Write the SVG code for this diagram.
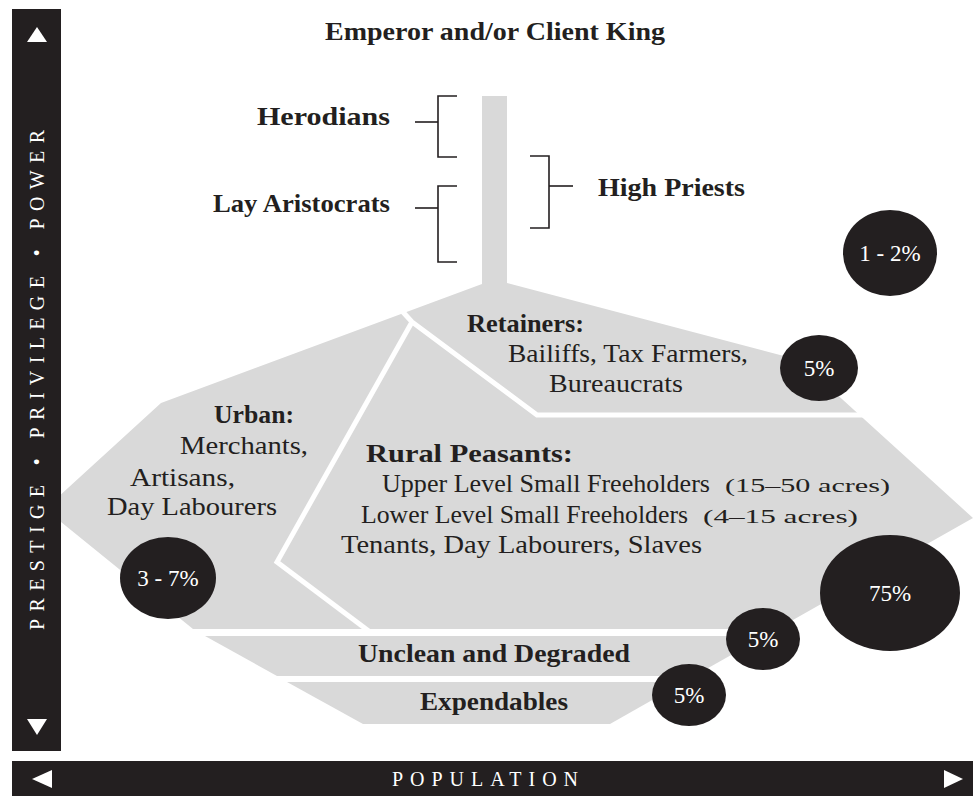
<svg xmlns="http://www.w3.org/2000/svg" width="973" height="796" viewBox="0 0 973 796">
<defs>
<style>
.bg{fill:#ffffff}
.gray{fill:#d9d9d9}
.dark{fill:#231f20}
.div{fill:none;stroke:#ffffff;stroke-width:5;stroke-linejoin:miter}
.br{fill:none;stroke:#231f20;stroke-width:1.6}
.t{font-family:"Liberation Serif","Times New Roman",serif;fill:#231f20;font-size:25px}
.b{font-weight:bold}
.small{font-size:19px}
.w{font-family:"Liberation Serif","Times New Roman",serif;fill:#ffffff;font-size:23px;text-anchor:middle}
.axis{font-family:"Liberation Serif","Times New Roman",serif;fill:#ffffff;font-size:20px;text-anchor:middle}
</style>
</defs>
<rect class="bg" x="0" y="0" width="973" height="796"/>

<g id="shape">
<polygon class="gray" points="482,96 507,96 507,283 799,360 973,518 777,629 193,629 45,509 161,403 482,284"/>
<polygon class="gray" points="205,636 765,636 694,676 277,676"/>
<polygon class="gray" points="287,682 684,682 610,724 363,724"/>
<polyline class="div" points="402,311 412,322 537,415 880,415"/>
<polyline class="div" points="412,322 277,562 370,632"/>
</g>

<g id="axis-vertical">
<rect class="dark" x="12" y="9" width="49" height="742"/>
<polygon fill="#ffffff" points="37,27 27,42 47,42"/>
<polygon fill="#ffffff" points="27,719 47,719 37,735"/>
<text class="axis" transform="translate(44,380) rotate(-90)" textLength="500" lengthAdjust="spacing">PRESTIGE • PRIVILEGE • POWER</text>
</g>

<g id="axis-horizontal">
<rect class="dark" x="12" y="761" width="961" height="35"/>
<polygon fill="#ffffff" points="32,779 52,770 52,788"/>
<polygon fill="#ffffff" points="963,779 944,770 944,788"/>
<text class="axis" x="485" y="786" textLength="186" lengthAdjust="spacing">POPULATION</text>
</g>

<g id="emperor">
<text class="t b" x="325" y="40" textLength="340" lengthAdjust="spacingAndGlyphs">Emperor and/or Client King</text>
</g>

<g id="connectors">
<polyline class="br" points="415,122 438,122"/>
<polyline class="br" points="457,96 438,96 438,157 457,157"/>
<polyline class="br" points="415,208 438,208"/>
<polyline class="br" points="457,186 438,186 438,262 457,262"/>
<polyline class="br" points="530,156 549,156 549,228 530,228"/>
<polyline class="br" points="549,186 573,186"/>
</g>

<g id="herodians">
<text class="t b" x="257" y="125" textLength="133" lengthAdjust="spacingAndGlyphs">Herodians</text>
</g>
<g id="lay-aristocrats">
<text class="t b" x="213" y="212" textLength="177" lengthAdjust="spacingAndGlyphs">Lay Aristocrats</text>
</g>
<g id="high-priests">
<text class="t b" x="598" y="196" textLength="147" lengthAdjust="spacingAndGlyphs">High Priests</text>
</g>

<g id="retainers">
<text class="t b" x="467" y="332" textLength="117" lengthAdjust="spacingAndGlyphs">Retainers:</text>
<text class="t" x="508" y="362" textLength="240" lengthAdjust="spacingAndGlyphs">Bailiffs, Tax Farmers,</text>
<text class="t" x="549" y="392" textLength="134" lengthAdjust="spacingAndGlyphs">Bureaucrats</text>
</g>

<g id="urban">
<text class="t b" x="214" y="423" textLength="80" lengthAdjust="spacingAndGlyphs">Urban:</text>
<text class="t" x="180" y="454" textLength="128" lengthAdjust="spacingAndGlyphs">Merchants,</text>
<text class="t" x="130" y="486" textLength="105" lengthAdjust="spacingAndGlyphs">Artisans,</text>
<text class="t" x="107" y="515" textLength="170" lengthAdjust="spacingAndGlyphs">Day Labourers</text>
</g>

<g id="rural-peasants">
<text class="t b" x="366" y="462" textLength="207" lengthAdjust="spacingAndGlyphs">Rural Peasants:</text>
<text class="t" x="382" y="492" textLength="328" lengthAdjust="spacingAndGlyphs">Upper Level Small Freeholders</text>
<text class="t small" x="725" y="492" textLength="165" lengthAdjust="spacingAndGlyphs">(15–50 acres)</text>
<text class="t" x="361" y="523" textLength="327" lengthAdjust="spacingAndGlyphs">Lower Level Small Freeholders</text>
<text class="t small" x="703" y="523" textLength="155" lengthAdjust="spacingAndGlyphs">(4–15 acres)</text>
<text class="t" x="341" y="553" textLength="361" lengthAdjust="spacingAndGlyphs">Tenants, Day Labourers, Slaves</text>
</g>

<g id="unclean">
<text class="t b" x="358" y="662" textLength="272" lengthAdjust="spacingAndGlyphs">Unclean and Degraded</text>
</g>
<g id="expendables">
<text class="t b" x="420" y="710" textLength="148" lengthAdjust="spacingAndGlyphs">Expendables</text>
</g>

<g id="pct-1-2">
<ellipse class="dark" cx="890" cy="253" rx="47" ry="43"/>
<text class="w" x="890" y="261">1 - 2%</text>
</g>
<g id="pct-retainers">
<ellipse class="dark" cx="819" cy="368" rx="39" ry="33"/>
<text class="w" x="819" y="376">5%</text>
</g>
<g id="pct-urban">
<ellipse class="dark" cx="168" cy="578" rx="48" ry="41"/>
<text class="w" x="168" y="586">3 - 7%</text>
</g>
<g id="pct-rural">
<ellipse class="dark" cx="890" cy="593" rx="70" ry="58"/>
<text class="w" x="890" y="601">75%</text>
</g>
<g id="pct-unclean">
<ellipse class="dark" cx="763" cy="639" rx="37" ry="31"/>
<text class="w" x="763" y="647">5%</text>
</g>
<g id="pct-expendables">
<ellipse class="dark" cx="689" cy="695" rx="37" ry="31"/>
<text class="w" x="689" y="703">5%</text>
</g>
</svg>
